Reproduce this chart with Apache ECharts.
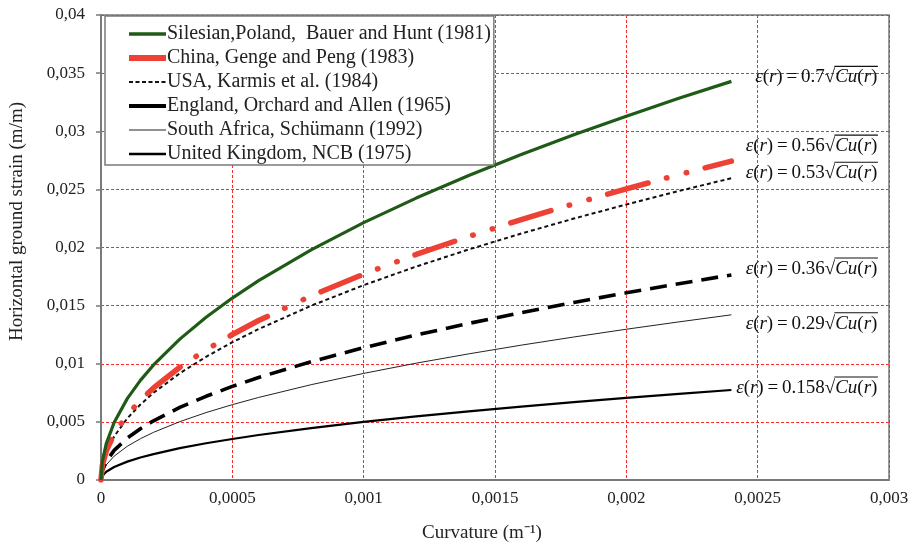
<!DOCTYPE html>
<html><head><meta charset="utf-8">
<script src="https://cdn.jsdelivr.net/npm/echarts@6/dist/echarts.min.js"></script>
<style>html,body{margin:0;padding:0;background:#fff}#c{width:920px;height:548px}</style>
</head><body><div id="c"></div>
<script>
// ---- data ----
const curvature = [0, 0.000005, 0.00002, 0.00005, 0.0001, 0.00015, 0.0002, 0.0003, 0.0004, 0.0005, 0.0006, 0.0008, 0.001, 0.0012, 0.0014, 0.0016, 0.0018, 0.002, 0.0022, 0.0024];
const silesian = [0, 0.00157, 0.00313, 0.00495, 0.0070, 0.00857, 0.0099, 0.01212, 0.0140, 0.01565, 0.01715, 0.0198, 0.02214, 0.02425, 0.02619, 0.0280, 0.0297, 0.0313, 0.03283, 0.03429];
const china    = [0, 0.00125, 0.0025, 0.00396, 0.0056, 0.00686, 0.00792, 0.0097, 0.0112, 0.01252, 0.01372, 0.01584, 0.01771, 0.0194, 0.02095, 0.0224, 0.02376, 0.02504, 0.02627, 0.02743];
const usa      = [0, 0.00119, 0.00237, 0.00375, 0.0053, 0.00649, 0.0075, 0.00918, 0.0106, 0.01185, 0.01298, 0.01499, 0.01676, 0.01836, 0.01983, 0.0212, 0.02249, 0.0237, 0.02486, 0.02596];
const england  = [0, 0.0008, 0.00161, 0.00255, 0.0036, 0.00441, 0.00509, 0.00624, 0.0072, 0.00805, 0.00882, 0.01018, 0.01138, 0.01247, 0.01347, 0.0144, 0.01527, 0.0161, 0.01689, 0.01764];
const safrica  = [0, 0.00065, 0.0013, 0.00205, 0.0029, 0.00355, 0.0041, 0.00502, 0.0058, 0.00648, 0.0071, 0.0082, 0.00917, 0.01005, 0.01085, 0.0116, 0.0123, 0.01297, 0.0136, 0.01421];
const ukNcb    = [0, 0.00035, 0.00071, 0.00112, 0.00158, 0.00194, 0.00223, 0.00274, 0.00316, 0.00353, 0.00387, 0.00447, 0.005, 0.00547, 0.00591, 0.00632, 0.0067, 0.00707, 0.00741, 0.00774];
const seriesNames = [
  'Silesian,Poland,  Bauer and Hunt (1981)',
  'China, Genge and Peng (1983)',
  'USA, Karmis et al. (1984)',
  'England, Orchard and Allen (1965)',
  'South Africa, Schümann (1992)',
  'United Kingdom, NCB (1975)'
];
const coefficients = ['0.7', '0.56', '0.53', '0.36', '0.29', '0.158'];
const xTicks = { min: 0, max: 0.003, interval: 0.0005 };
const yTicks = { min: 0, max: 0.04, interval: 0.005 };
const xTitle = 'Curvature (m\u207B\u00B9)';
const yTitle = 'Horizontal ground strain (m/m)';

// ---- chart ----
const FONT = 'Liberation Serif';
const allValues = [silesian, china, usa, england, safrica, ukNcb];
const styles = [
  { color: '#1f5a17', width: 3.2, type: 'solid' },
  { color: '#ee4136', width: 5.5, type: [42, 19, 0.5, 20, 0.5, 19], cap: 'round' },
  { color: '#111', width: 2, type: [4, 3] },
  { color: '#000', width: 3.6, type: [17, 9] },
  { color: '#222', width: 1, type: 'solid' },
  { color: '#000', width: 2.2, type: 'solid' }
];
const legendOverrides = [
  { width: 3.5, type: 'solid' },
  { width: 6, type: 'solid' },
  { width: 2, type: [4, 2.5] },
  { width: 4, type: 'solid' },
  { width: 1, type: 'solid' },
  { width: 2.5, type: 'solid' }
];
const fmt = v => String(+v.toFixed(6)).replace('.', ',');

const chart = echarts.init(document.getElementById('c'), null, { renderer: 'canvas' });
const series = allValues.map((vals, i) => ({
  name: seriesNames[i],
  type: 'line',
  symbol: 'none',
  smooth: false,
  data: curvature.map((x, j) => [x, vals[j]]),
  lineStyle: { color: styles[i].color, width: styles[i].width, type: styles[i].type, cap: styles[i].cap || 'butt', join: 'round' },
  itemStyle: { color: styles[i].color },
  z: 10 - i
}));

chart.setOption({
  animation: false,
  grid: { left: 101, right: 31, top: 15, bottom: 66, show: true, borderColor: '#7a7a7a', borderWidth: 1.5 },
  legend: {
    orient: 'vertical', left: 105, top: 16, z: 20,
    backgroundColor: '#fff', borderColor: '#7a7a7a', borderWidth: 1.5,
    padding: [8, 3, 1, 21], itemGap: 4, itemWidth: 37, itemHeight: 20,
    textStyle: { fontFamily: FONT, fontSize: 20, color: '#222', padding: [0, 0, 0, -4] },
    data: seriesNames.map((n, i) => ({
      name: n,
      itemStyle: { opacity: 0, color: 'rgba(0,0,0,0)', borderWidth: 0 },
      lineStyle: { color: styles[i].color, width: legendOverrides[i].width, type: legendOverrides[i].type, cap: 'butt', opacity: 1 }
    }))
  },
  xAxis: {
    type: 'value', min: xTicks.min, max: xTicks.max, interval: xTicks.interval,
    name: xTitle, nameLocation: 'middle', nameGap: 44,
    nameTextStyle: { fontFamily: FONT, fontSize: 19, color: '#222', padding: [0, 26, 0, 0] },
    axisLine: { lineStyle: { color: '#7a7a7a', width: 2 } },
    axisTick: { show: false },
    axisLabel: { fontFamily: FONT, fontSize: 17, color: '#222', margin: 10, formatter: fmt },
    splitLine: { show: true, lineStyle: { color: '#ff2a2a', type: [3, 2], width: 1 } }
  },
  yAxis: {
    type: 'value', min: yTicks.min, max: yTicks.max, interval: yTicks.interval,
    name: yTitle, nameLocation: 'middle', nameGap: 74, nameRotate: 90,
    nameTextStyle: { fontFamily: FONT, fontSize: 19, color: '#222', padding: [0, 0, 0, 52] },
    axisLine: { lineStyle: { color: '#7a7a7a', width: 2 } },
    axisTick: { show: true, length: 5, inside: false, lineStyle: { color: '#7a7a7a', width: 1.5 } },
    axisLabel: { fontFamily: FONT, fontSize: 17, color: '#222', margin: 16, formatter: fmt },
    splitLine: { show: true, lineStyle: { color: '#ff2a2a', type: [3, 2], width: 1 } }
  },
  series
});

// ---- formula annotations next to the curve ends ----
const ctx = document.createElement('canvas').getContext('2d');
const SIZE = 19;
function fontOf(italic) { return (italic ? 'italic ' : '') + SIZE + 'px "' + FONT + '"'; }
function w(text, italic) { ctx.font = fontOf(italic); return ctx.measureText(text).width; }
const last = curvature.length - 1;
const yShift = [-4, -15, -5, -6, 9, -2];
const rightGap = 146;
const elements = [];
allValues.forEach((vals, i) => {
  const p = chart.convertToPixel({ gridIndex: 0 }, [curvature[last], vals[last]]);
  const right = p[0] + rightGap;
  const cy = p[1] + yShift[i];
  const parts = [['\u03B5', true], ['(', false], ['r', true], [')\u2009=\u2009' + coefficients[i], false], ['\u221A', false], ['Cu', true], ['(', false], ['r', true], [')', false]];
  const total = parts.reduce((s, q) => s + w(q[0], q[1]), 0);
  let x = right - total;
  let sqrtEnd = 0;
  parts.forEach((q, k) => {
    const ww = w(q[0], q[1]);
    elements.push({ type: 'text', x: x, y: cy, z: 100, style: { text: q[0], font: fontOf(q[1]), fill: '#111', textVerticalAlign: 'middle', textAlign: 'left' } });
    if (k === 4) sqrtEnd = x + ww - 0.8;
    x += ww;
  });
  elements.push({ type: 'line', z: 100, shape: { x1: sqrtEnd, y1: cy - 11, x2: x + 0.5, y2: cy - 11 }, style: { stroke: '#111', lineWidth: 1.1 } });
});
chart.setOption({ graphic: { elements } });
</script>
</body></html>
